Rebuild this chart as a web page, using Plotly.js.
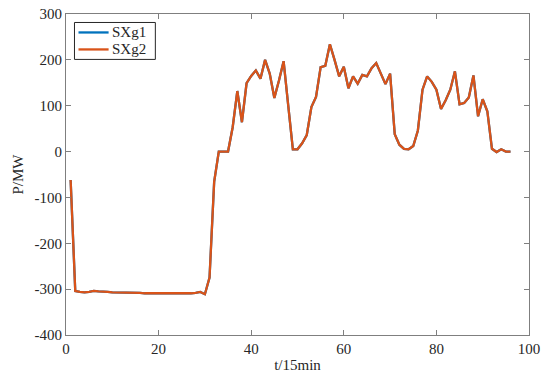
<!DOCTYPE html>
<html>
<head>
<meta charset="utf-8">
<script src="https://cdn.plot.ly/plotly-3.0.1.min.js"></script>
<style>html,body{margin:0;padding:0;background:#fff;}#chart{width:550px;height:376px;}</style>
</head>
<body>
<div id="chart"></div>
<script>
const t = Array.from({length: 96}, (_, i) => i + 1);
const seriesNames = ["SXg1", "SXg2"];
const seriesColors = ['#0072BD', '#D95319'];
const sxg2 = [
  -62, -304, -306, -307, -306, -304, -305, -305, -306, -307,
  -307, -307, -308, -308, -308, -308, -309, -309, -309, -309,
  -309, -310, -310, -310, -310, -310, -309, -308, -306, -311,
  -275, -66, 0, 0, 0, 53, 132, 64, 149, 165,
  177, 159, 200, 170, 117, 155, 197, 100, 5, 5,
  18, 36, 97, 119, 184, 187, 234, 200, 164, 185,
  138, 164, 148, 167, 164, 182, 193, 170, 147, 170,
  38, 15, 6, 5, 12, 46, 135, 164, 152, 135,
  93, 112, 135, 175, 103, 106, 118, 166, 77, 114,
  88, 6, -1, 5, 0, 0
];
const sxg1 = sxg2.slice();
const xTicks = [0, 20, 40, 60, 80, 100];
const yTicks = [-400, -300, -200, -100, 0, 100, 200, 300];
const yTickText = ["-400", "-300", "-200", "-100", "0", "100", "200", "300"];

const FONT = 'Liberation Serif';
const axisCommon = {
  showgrid: false, zeroline: false, showline: true, mirror: 'ticks',
  linecolor: '#7f7f7f', linewidth: 1, ticks: 'inside', ticklen: 5,
  tickcolor: '#7f7f7f', tickfont: {family: FONT, size: 15, color: '#262626'}
};

const data = [
  {x: t, y: sxg1, name: seriesNames[0], mode: 'lines', line: {color: seriesColors[0], width: 2.3}},
  {x: t, y: sxg2, name: seriesNames[1], mode: 'lines', line: {color: seriesColors[1], width: 2.3}}
];

// legend box drawn in paper coordinates
const shapes = [
  {type: 'rect', xref: 'paper', yref: 'paper', x0: 0.0183, x1: 0.193, y0: 0.8585, y1: 0.9736,
   line: {color: '#262626', width: 1}, fillcolor: '#fff', layer: 'above'}
];
const annotations = [];
const legendY = [0.9425, 0.8896];
seriesNames.forEach((n, i) => {
  shapes.push({type: 'line', xref: 'paper', yref: 'paper', x0: 0.027, x1: 0.092, y0: legendY[i], y1: legendY[i],
    line: {color: seriesColors[i], width: 2.3}, layer: 'above'});
  annotations.push({xref: 'paper', yref: 'paper', x: 0.097, y: legendY[i], xanchor: 'left', yanchor: 'middle',
    text: n, showarrow: false, borderpad: 0, font: {family: FONT, size: 15, color: '#262626'}});
});

const layout = {
  width: 550, height: 376,
  margin: {l: 65.5, r: 21, t: 13.5, b: 41},
  paper_bgcolor: '#fff', plot_bgcolor: '#fff',
  showlegend: false,
  shapes: shapes, annotations: annotations,
  xaxis: Object.assign({}, axisCommon, {range: [0, 100], tickvals: xTicks,
    title: {text: 't/15min', font: {family: FONT, size: 15, color: '#262626'}, standoff: 3}}),
  yaxis: Object.assign({}, axisCommon, {range: [-400, 300], tickvals: yTicks, ticktext: yTickText,
    title: {text: 'P/MW', font: {family: FONT, size: 15, color: '#262626'}, standoff: 7}})
};
Plotly.newPlot('chart', data, layout, {staticPlot: true, displayModeBar: false});
</script>
</body>
</html>
